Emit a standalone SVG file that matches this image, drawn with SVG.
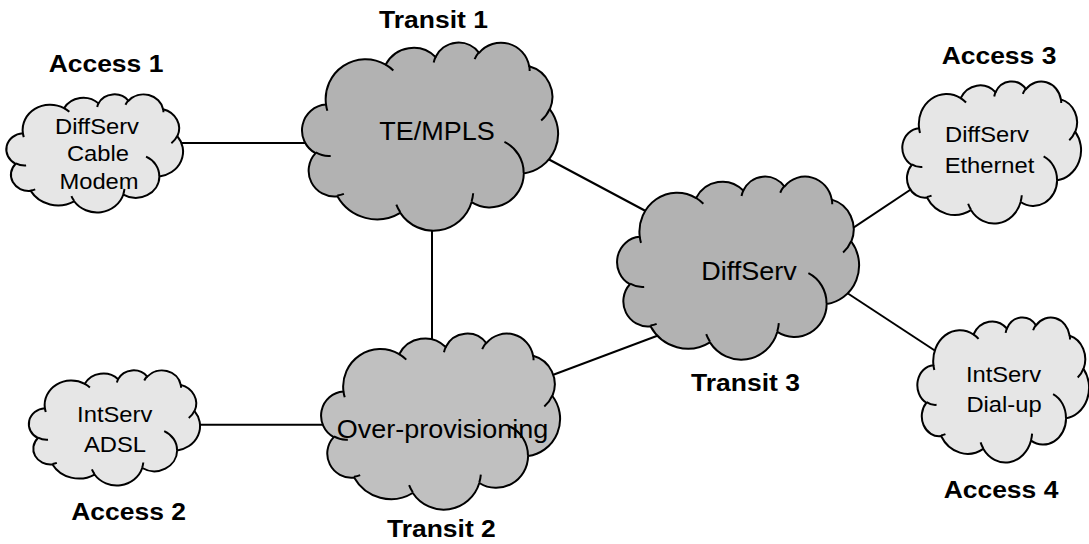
<svg xmlns="http://www.w3.org/2000/svg" xmlns:xlink="http://www.w3.org/1999/xlink" width="1089" height="544" viewBox="0 0 1089 544">
<style>
.cl{stroke:#000;stroke-width:2;stroke-linejoin:round;vector-effect:non-scaling-stroke}
.in{fill:none;stroke:#000;stroke-width:2;vector-effect:non-scaling-stroke}
.sm{fill:#e6e6e6}
.bg{fill:#b2b2b2}
.bg2{fill:#c0c0c0}
.lbl{font-family:"Liberation Sans",Arial,Helvetica,sans-serif;font-weight:bold;font-size:24.5px;text-anchor:middle;fill:#000}
.t{font-family:"Liberation Sans",Arial,Helvetica,sans-serif;font-size:22px;text-anchor:middle;fill:#000}
.tb{font-family:"Liberation Sans",Arial,Helvetica,sans-serif;font-size:25px;text-anchor:middle;fill:#000}
.ln{stroke:#000;stroke-width:2;fill:none}
</style>
<defs>
<g id="cloud">
<path class="cl" d="M9.03,33.26 A15.63,21.27 0 0 1 32.42,12.04 A12.34,16.82 0 0 1 51.98,7.95 A10.10,13.76 0 0 1 69.06,5.75 A11.24,15.27 0 0 1 88.70,12.92 A12.34,16.84 0 0 1 96.80,35.80 A15.68,21.34 0 0 1 86.59,69.92 A13.39,18.21 0 0 1 66.10,85.22 A15.63,21.33 0 0 1 38.15,90.90 A17.87,24.41 0 0 1 13.48,82.09 A10.09,13.70 0 0 1 4.93,59.13 A10.06,13.76 0 0 1 9.03,33.26 Z"/>
<path class="in" d="M10.86,60.59 A10.06,13.76 0 0 1 5.00,58.75 M16.04,80.78 A10.09,13.70 0 0 1 13.47,81.67 M38.14,90.49 A15.63,21.33 0 0 1 36.60,86.46 M66.73,80.44 A15.63,21.33 0 0 1 66.11,84.86 M79.00,53.13 A13.39,18.21 0 0 1 86.53,69.65 M96.75,35.54 A12.34,16.84 0 0 1 93.40,41.74 M88.71,12.56 A11.24,15.27 0 0 1 88.89,15.48 M67.31,9.15 A11.24,15.27 0 0 1 69.03,5.41 M51.25,10.93 A10.10,13.76 0 0 1 52.08,7.71 M32.41,12.02 A15.63,21.27 0 0 1 35.42,15.14 M9.55,36.55 A15.63,21.27 0 0 1 9.03,33.26"/>
</g>
</defs>
<rect width="1089" height="544" fill="#fff"/>
<g id="connectors">
<line class="ln" x1="150" y1="143" x2="340" y2="143"/>
<line class="ln" x1="432" y1="215" x2="432" y2="350"/>
<line class="ln" x1="520" y1="144" x2="670" y2="224"/>
<line class="ln" x1="840" y1="236.6" x2="925" y2="180"/>
<line class="ln" x1="835" y1="285" x2="950" y2="360.5"/>
<line class="ln" x1="540" y1="379.7" x2="670" y2="331"/>
<line class="ln" x1="180" y1="424.7" x2="345" y2="424.7"/>
</g>
<g id="access1">
<use xlink:href="#cloud" class="sm" transform="translate(7,94) scale(1.76,1.18)"/>
<text class="t" transform="translate(97,134) scale(1.08,1)">DiffServ</text>
<text class="t" transform="translate(98,161) scale(1.08,1)">Cable</text>
<text class="t" transform="translate(99,188.5) scale(1.08,1)">Modem</text>
<text class="lbl" transform="translate(106,72) scale(1.08,1)">Access 1</text>
</g>
<g id="transit1">
<use xlink:href="#cloud" class="bg" transform="translate(303,42) scale(2.55,1.88)"/>
<text class="tb" transform="translate(437,140) scale(1.08,1)">TE/MPLS</text>
<text class="lbl" transform="translate(433.5,28.3) scale(1.08,1)">Transit 1</text>
</g>
<g id="transit3">
<use xlink:href="#cloud" class="bg" transform="translate(618,176) scale(2.41,1.83)"/>
<text class="tb" transform="translate(749,280) scale(1.08,1)">DiffServ</text>
<text class="lbl" transform="translate(745.5,391) scale(1.08,1)">Transit 3</text>
</g>
<g id="access3">
<use xlink:href="#cloud" class="sm" transform="translate(903,81) scale(1.78,1.42)"/>
<text class="t" transform="translate(987,141.7) scale(1.08,1)">DiffServ</text>
<text class="t" transform="translate(989.5,172.7) scale(1.08,1)">Ethernet</text>
<text class="lbl" transform="translate(999,64.3) scale(1.08,1)">Access 3</text>
</g>
<g id="access4">
<use xlink:href="#cloud" class="sm" transform="translate(918,317) scale(1.71,1.45)"/>
<text class="t" transform="translate(1003.5,382) scale(1.08,1)">IntServ</text>
<text class="t" transform="translate(1004,411.5) scale(1.08,1)">Dial-up</text>
<text class="lbl" transform="translate(1001,498) scale(1.08,1)">Access 4</text>
</g>
<g id="transit2">
<use xlink:href="#cloud" class="bg2" transform="translate(322,333) scale(2.38,1.76)"/>
<text class="tb" transform="translate(442.5,438) scale(1.08,1)">Over-provisioning</text>
<text class="lbl" transform="translate(441.4,536.5) scale(1.08,1)">Transit 2</text>
</g>
<g id="access2">
<use xlink:href="#cloud" class="sm" transform="translate(29.5,370) scale(1.705,1.15)"/>
<text class="t" transform="translate(114.7,422) scale(1.08,1)">IntServ</text>
<text class="t" transform="translate(115,452) scale(1.08,1)">ADSL</text>
<text class="lbl" transform="translate(128.6,520) scale(1.08,1)">Access 2</text>
</g>
</svg>
